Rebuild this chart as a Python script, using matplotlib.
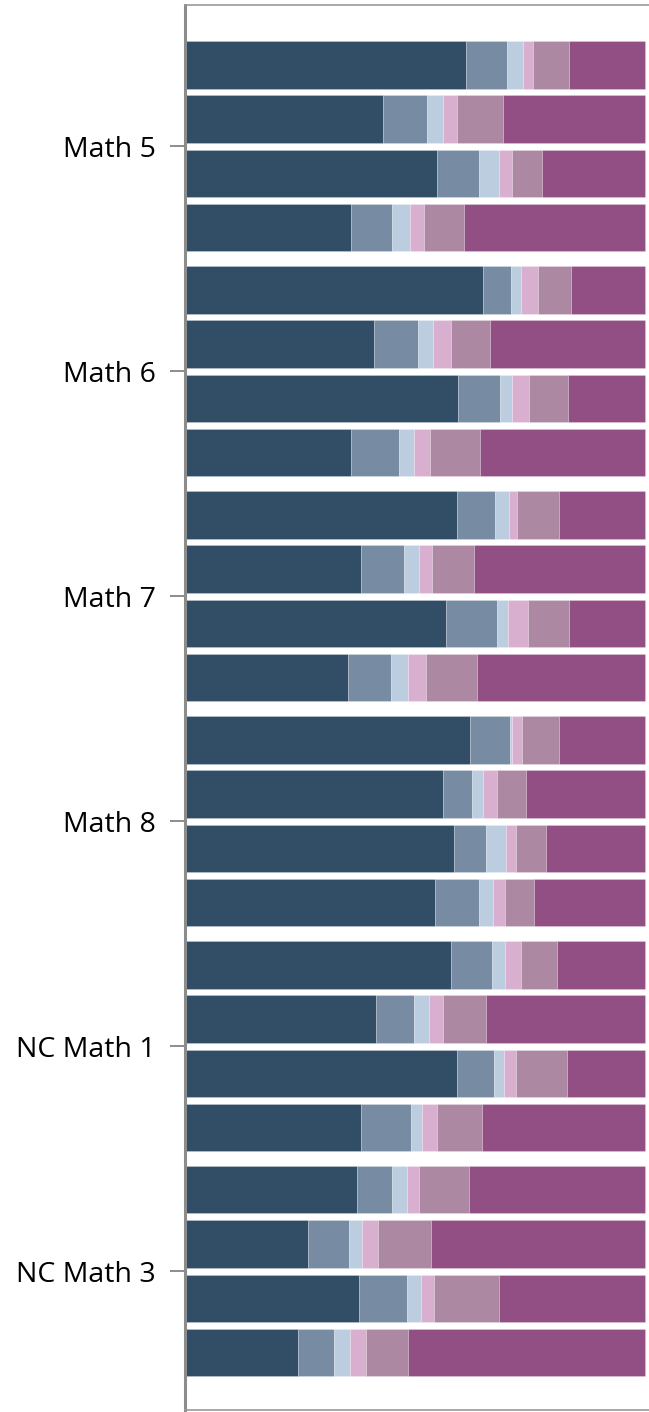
import matplotlib.pyplot as plt
import numpy as np

plt.rcParams['font.family'] = ['Open Sans', 'DejaVu Sans']

courses = ['Math 5', 'Math 6', 'Math 7', 'Math 8', 'NC Math 1', 'NC Math 3']

# share of each bar, 6 levels, 4 bars per course
level1 = [[61.1, 43.1, 54.9, 36.1], [64.7, 41.0, 59.4, 36.2], [59.2, 38.2, 56.8, 35.5],
          [62.0, 56.2, 58.6, 54.4], [57.9, 41.5, 59.1, 38.3], [37.4, 26.8, 37.8, 24.6]]
level2 = [[8.9, 9.5, 9.0, 9.0], [6.2, 9.7, 9.1, 10.4], [8.2, 9.4, 11.0, 9.2],
          [8.6, 6.3, 6.9, 9.5], [8.8, 8.4, 8.0, 10.8], [7.6, 8.9, 10.4, 7.8]]
level3 = [[3.6, 3.4, 4.4, 3.8], [2.2, 3.3, 2.7, 3.3], [3.0, 3.2, 2.4, 3.8],
          [0.5, 2.4, 4.4, 3.1], [2.9, 3.2, 2.2, 2.5], [3.3, 2.7, 3.2, 3.4]]
level4 = [[2.1, 3.2, 2.7, 3.0], [3.6, 3.9, 3.7, 3.3], [1.9, 2.9, 4.3, 3.9],
          [2.1, 2.9, 2.1, 2.5], [3.5, 2.9, 2.7, 3.2], [2.6, 3.6, 2.8, 3.6]]
level5 = [[7.7, 9.9, 6.6, 8.7], [7.2, 8.5, 8.3, 10.9], [9.1, 9.1, 9.1, 11.1],
          [8.1, 6.3, 6.6, 6.5], [7.9, 9.5, 11.1, 9.8], [10.9, 11.6, 14.0, 9.2]]
level6 = [[16.6, 30.9, 22.4, 39.4], [16.1, 33.6, 16.8, 35.9], [18.6, 37.2, 16.4, 36.5],
          [18.7, 25.9, 21.4, 24.0], [19.0, 34.5, 16.9, 35.4], [38.2, 46.4, 31.8, 51.4]]

levels = [level1, level2, level3, level4, level5, level6]
colors = ['#324e67', '#778ca2', '#bdcde0', '#d8afcf', '#ad88a3', '#924f83']

fig = plt.figure(figsize=(6.49, 14.12), dpi=100)
ax = fig.add_axes([185 / 649, 2 / 1412, 464 / 649, 1405 / 1412])

step = 0.2413
height = 0.211
for i in range(len(courses)):
    ys = i + (np.arange(4) - 1.5) * step
    left = np.zeros(4)
    for lev, c in zip(levels, colors):
        vals = np.array(lev[i])
        ax.barh(ys, vals, left=left, height=height, color=c,
                edgecolor=(1, 1, 1, 0.25), linewidth=0.6)
        left += vals

ax.set_xlim(0, 100.9)
ax.set_ylim(5.617, -0.628)
ax.set_yticks(range(len(courses)))
ax.set_yticklabels(courses, fontsize=20.5)
ax.set_xticks([])
ax.tick_params(axis='y', length=11, width=1.4, color='#8c8c8c', pad=10)

ax.spines['right'].set_visible(False)
ax.spines['left'].set_color('#8c8c8c')
ax.spines['left'].set_linewidth(2.2)
for s in ['top', 'bottom']:
    ax.spines[s].set_color('#999999')
    ax.spines[s].set_linewidth(1.2)

plt.savefig('out.png', dpi=100)
